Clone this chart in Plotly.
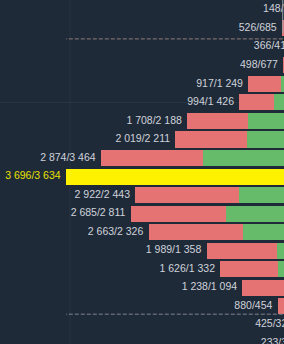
import plotly.graph_objects as go

# Volume profile rows, top (highest price) to bottom
sell = [148, 526, 366, 498, 917, 994, 1708, 2019, 2874, 3696, 2922, 2685, 2663, 1989, 1626, 1238, 880, 425, 233]
buy = [372, 685, 416, 677, 1249, 1426, 2188, 2211, 3464, 3634, 2443, 2811, 2326, 1358, 1332, 1094, 454, 320, 351]
poc_index = 9
va_high_index = 2
va_low_index = 16

BG = "#1f2a39"
RED = "#e57373"
GREEN = "#66bb6a"
YELLOW = "#fff200"
TEXT = "#cfd3d9"
POC_TEXT = "#e6e000"

rows = list(range(len(sell)))
totals = [s + b for s, b in zip(sell, buy)]


def fmt(v):
    return f"{v:,}".replace(",", " ")


labels = [f"{fmt(s)}/{fmt(b)}" for s, b in zip(sell, buy)]

green_colors = [YELLOW if i == poc_index else GREEN for i in rows]
red_colors = [YELLOW if i == poc_index else RED for i in rows]
text_colors = [POC_TEXT if i == poc_index else TEXT for i in rows]

fig = go.Figure()
fig.add_trace(go.Bar(y=rows, x=buy, orientation="h", marker=dict(color=green_colors, line=dict(width=0)),
                     hoverinfo="skip"))
fig.add_trace(go.Bar(y=rows, x=sell, orientation="h", marker=dict(color=red_colors, line=dict(width=0)),
                     hoverinfo="skip"))

half = 0.43
max_total = max(totals)
fig.add_trace(go.Scatter(x=[0, max_total], y=[va_high_index - half] * 2, mode="lines",
                         line=dict(color="#927c7c", width=1, dash="4px,2px"), hoverinfo="skip"))
fig.add_trace(go.Scatter(x=[0, max_total], y=[va_low_index + half] * 2, mode="lines",
                         line=dict(color="#80838f", width=1, dash="4px,2px"), hoverinfo="skip"))

fig.add_trace(go.Scatter(x=totals, y=rows, mode="markers+text", text=labels, textposition="middle left",
                         marker=dict(size=7, color="rgba(0,0,0,0)"),
                         textfont=dict(family="Liberation Sans, Arial, sans-serif", size=10.5, color=text_colors),
                         cliponaxis=True, hoverinfo="skip"))

fig.update_layout(
    width=284, height=344,
    margin=dict(l=0, r=0, t=0, b=0),
    paper_bgcolor=BG, plot_bgcolor=BG,
    barmode="stack", bargap=0.135,
    showlegend=False, hovermode=False,
    xaxis=dict(range=[9199, 1156], visible=False, showgrid=False, zeroline=False, fixedrange=True),
    yaxis=dict(range=[18.04, -0.53], visible=False, showgrid=False, zeroline=False, fixedrange=True),
    shapes=[
        dict(type="line", xref="paper", yref="paper", x0=70 / 284, x1=70 / 284, y0=0, y1=1,
             line=dict(color="#27333f", width=1), layer="below"),
        dict(type="line", xref="paper", yref="y", x0=0, x1=1, y0=5, y1=5,
             line=dict(color="#2b3644", width=1), layer="below"),
        dict(type="line", xref="paper", yref="paper", x0=0.9955, x1=0.9955, y0=1 - 33 / 344, y1=1,
             line=dict(color="#9aa0a8", width=1), layer="above"),
    ],
)

fig.write_html("out.html", config={"displayModeBar": False})
